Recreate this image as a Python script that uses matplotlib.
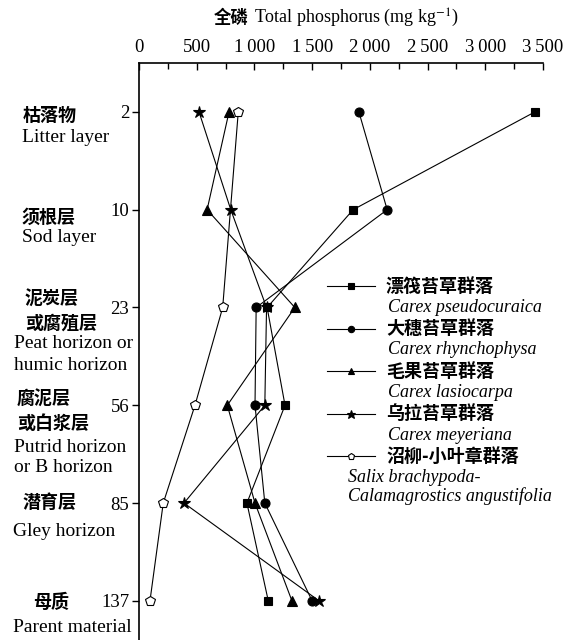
import numpy as np
import matplotlib.pyplot as plt
from matplotlib.lines import Line2D
from matplotlib.ticker import MultipleLocator

plt.rcParams['font.family'] = ['Liberation Serif', 'DejaVu Serif']
plt.rcParams['mathtext.fontset'] = 'stix'
CJK = ['Noto Sans CJK SC', 'DejaVu Sans']

# soil depth (cm) of each horizon
depths = ['2', '10', '23', '56', '85', '137']

x_ticks = [0, 500, 1000, 1500, 2000, 2500, 3000, 3500]
x_tick_labels = ['0', '500', '1\u2009000', '1\u2009500', '2\u2009000',
                 '2\u2009500', '3\u2009000', '3\u2009500']

# total phosphorus (mg/kg) per community, top to bottom (None = not measured)
pseudocuraica = [3430, 1855, 1110, 1265, 935, 1120]
rhynchophysa = [1905, 2150, 1015, 1005, 1090, 1500]
lasiocarpa = [780, 590, 1350, 765, 1005, 1325]
meyeriana = [520, 795, 1105, 1090, 390, 1560]
salix = [860, None, 725, 485, 210, 95]

names_cn = ['漂筏苔草群落', '大穗苔草群落', '毛果苔草群落', '乌拉苔草群落', '沼柳-小叶章群落']
names_latin = ['Carex pseudocuraica', 'Carex rhynchophysa', 'Carex lasiocarpa',
               'Carex meyeriana', 'Salix brachypoda-\nCalamagrostics angustifolia']

W, H = 584, 640


def fx(px):
    return px / W


def fy(py):
    return 1 - py / H


fig = plt.figure(figsize=(W / 100, H / 100), dpi=100)
ax = fig.add_axes([fx(139), 0, fx(543) - fx(139), fy(63)])

series = [pseudocuraica, rhynchophysa, lasiocarpa, meyeriana, salix]
styles = [
    dict(marker='s', ms=6, mfc='black'),
    dict(marker='o', ms=6.5, mfc='black'),
    dict(marker='^', ms=7, mfc='black'),
    dict(marker='*', ms=9, mfc='black'),
    dict(marker='p', ms=7, mfc='white'),
]
draw_order = [4, 2, 1, 3, 0]
for i in draw_order:
    vals = [(v, j) for j, v in enumerate(series[i]) if v is not None]
    xs = np.array([v for v, _ in vals])
    ys = np.array([j for _, j in vals])
    ax.plot(xs, ys, color='black', lw=0.8, mec='black', mew=0.8,
            zorder=3 + draw_order.index(i), **styles[i])

ax.set_xlim(0, 3500)
ax.set_ylim(5.4, -0.5)
ax.xaxis.tick_top()
ax.set_xticks(x_ticks)
ax.set_xticklabels(x_tick_labels, fontsize=13.5)
ax.xaxis.set_minor_locator(MultipleLocator(250))
ax.tick_params(axis='x', which='major', direction='in', length=5, width=1, pad=5)
ax.tick_params(axis='x', which='minor', direction='in', length=4, width=1)
ax.set_yticks(range(len(depths)))
ax.set_yticklabels(depths, fontsize=13.5)
ax.tick_params(axis='y', direction='out', length=5, width=1, pad=2)
ax.spines['right'].set_visible(False)
ax.spines['bottom'].set_visible(False)
ax.spines['left'].set_linewidth(1.2)
ax.spines['top'].set_linewidth(1.2)

# axis title
fig.text(fx(214), fy(18), '全磷', family=CJK, weight='bold', fontsize=12.5, va='center')
fig.text(fx(254), fy(18), 'Total phosphorus (mg kg$^{-1}$)', fontsize=13, va='center')

# horizon names beside the depth ticks
horizon_cn = [('枯落物', 23, 115), ('须根层', 22, 217), ('泥炭层', 25, 298),
              ('或腐殖层', 25, 323), ('腐泥层', 17, 398), ('或白浆层', 17, 423),
              ('潜育层', 23, 503), ('母质', 33, 602)]
horizon_en = [('Litter layer', 22, 137), ('Sod layer', 22, 238),
              ('Peat horizon or', 14, 343), ('humic horizon', 14, 366),
              ('Putrid horizon', 14, 447), ('or B horizon', 14, 468),
              ('Gley horizon', 13, 532), ('Parent material', 13, 628)]
for txt, x, y in horizon_cn:
    fig.text(fx(x), fy(y), txt, family=CJK, weight='bold', fontsize=13, va='center')
for txt, x, y in horizon_en:
    fig.text(fx(x), fy(y), txt, fontsize=14, va='center')

# legend drawn by hand: Chinese name with the Latin name underneath
for k in range(5):
    y = 286 + 42.5 * k
    fig.add_artist(Line2D([fx(327), fx(375)], [fy(y), fy(y)], color='black', lw=0.8,
                          transform=fig.transFigure))
    st = dict(styles[k])
    st['ms'] = st['ms'] * 0.7
    fig.add_artist(Line2D([fx(351)], [fy(y)], color='black', mec='black', mew=0.8,
                          transform=fig.transFigure, **st))
    fig.text(fx(386), fy(y), names_cn[k], family=CJK, weight='bold', fontsize=13,
             va='center')
    lx = 388 if k < 4 else 348
    fig.text(fx(lx), fy(y + 13), names_latin[k], fontsize=13, style='italic',
             va='top', linespacing=1.1)

fig.savefig('out.png', dpi=100)
